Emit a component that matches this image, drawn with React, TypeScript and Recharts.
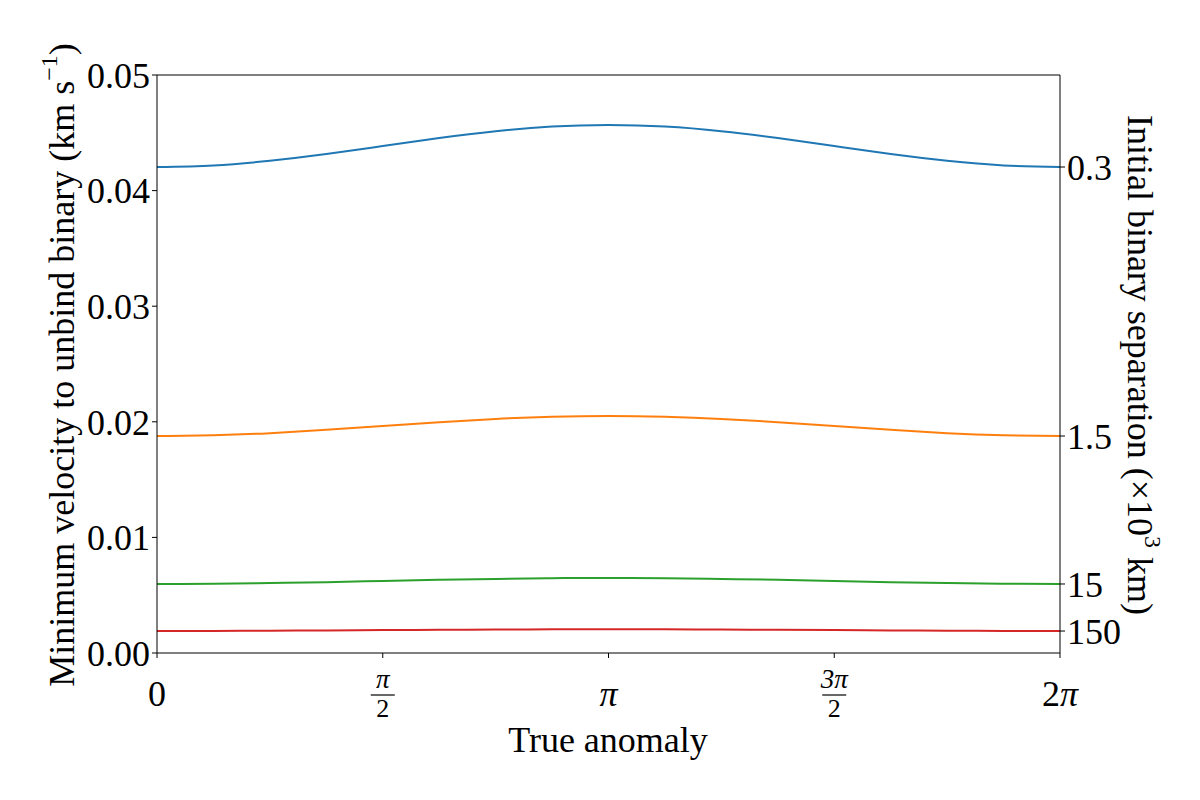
import React from "react";
import { LineChart, Line, XAxis, YAxis, Label, ReferenceLine } from "recharts";

// true anomaly, in units of pi
const anomaly = [0, 0.125, 0.25, 0.375, 0.5, 0.625, 0.75, 0.875, 1, 1.125, 1.25, 1.375, 1.5, 1.625, 1.75, 1.875, 2];

// minimum velocity to unbind (km/s)
const sep03 = [0.04204, 0.04218, 0.04258, 0.04316, 0.04386, 0.04455, 0.04514, 0.04554, 0.04567, 0.04554, 0.04514, 0.04455, 0.04386, 0.04316, 0.04258, 0.04218, 0.04204];
const sep15 = [0.01877, 0.01884, 0.01902, 0.01931, 0.01964, 0.01997, 0.02025, 0.02043, 0.0205, 0.02043, 0.02025, 0.01997, 0.01964, 0.01931, 0.01902, 0.01884, 0.01877];
const sep150 = [0.00597, 0.00599, 0.00605, 0.00613, 0.00623, 0.00633, 0.00641, 0.00647, 0.00649, 0.00647, 0.00641, 0.00633, 0.00623, 0.00613, 0.00605, 0.00599, 0.00597];
const sep1500 = [0.0019, 0.00191, 0.00193, 0.00195, 0.00198, 0.00201, 0.00203, 0.00205, 0.00205, 0.00205, 0.00203, 0.00201, 0.00198, 0.00195, 0.00193, 0.00191, 0.0019];

const leftTicks = [0, 0.01, 0.02, 0.03, 0.04, 0.05];
const xTicks = [0, 0.5, 1, 1.5, 2];

// right axis: labelled at the starting value of each curve
const rightTicks = [0.04204, 0.01877, 0.00597, 0.0019];
const rightLabels = ["0.3", "1.5", "15", "150"];

const series = [
  { key: "s03", values: sep03, color: "#1f77b4" },
  { key: "s15", values: sep15, color: "#ff7f0e" },
  { key: "s150", values: sep150, color: "#2ca02c" },
  { key: "s1500", values: sep1500, color: "#d62728" },
];

const data = anomaly.map((t, i) => {
  const row: any = { t };
  series.forEach((s) => (row[s.key] = s.values[i]));
  return row;
});

const FONT = "'Liberation Serif', 'DejaVu Serif', serif";
const FS = 36;
const black = { stroke: "#000", strokeWidth: 1 };

const XTick = (props: any) => {
  const { x, y, payload } = props;
  const v = payload.value;
  const frac = (num: string) => (
    <g>
      <text x={x} y={y + 28} textAnchor="middle" fontFamily={FONT} fontSize={27} fontStyle="italic" fill="#000">
        {num}
      </text>
      <line x1={x - 12} x2={x + 12} y1={y + 35} y2={y + 35} stroke="#000" strokeWidth={1.2} />
      <text x={x} y={y + 57} textAnchor="middle" fontFamily={FONT} fontSize={26} fill="#000">
        2
      </text>
    </g>
  );
  if (v === 0.5) return frac("π");
  if (v === 1.5) return frac("3π");
  return (
    <text x={x} y={y + 46} textAnchor="middle" fontFamily={FONT} fontSize={FS} fill="#000">
      {v === 0 ? "0" : v === 1 ? <tspan fontStyle="italic">π</tspan> : <tspan>2<tspan fontStyle="italic">π</tspan></tspan>}
    </text>
  );
};

export default function App() {
  return (
    <div style={{ position: "absolute", left: 0, top: 0, width: 1200, height: 800, background: "#fff" }}>
      <LineChart width={1200} height={800} data={data} margin={{ top: 75, right: 0, bottom: 47, left: 0 }}>
        <XAxis
          dataKey="t"
          type="number"
          domain={[0, 2]}
          ticks={xTicks}
          tick={<XTick />}
          height={100}
          axisLine={black}
          tickLine={black}
          tickSize={5}
          interval={0}
        >
          <Label
            content={() => (
              <text x={608} y={752} textAnchor="middle" fontFamily={FONT} fontSize={FS} fill="#000">
                True anomaly
              </text>
            )}
          />
        </XAxis>
        <YAxis
          yAxisId="left"
          type="number"
          domain={[0, 0.05]}
          ticks={leftTicks}
          tickFormatter={(v: number) => v.toFixed(2)}
          width={157}
          axisLine={black}
          tickLine={black}
          tickSize={5}
          tick={{ fontFamily: FONT, fontSize: FS, fill: "#000" }}
          interval={0}
        >
          <Label
            content={() => (
              <text
                x={62}
                y={365}
                transform="rotate(-90 62 365)"
                textAnchor="middle"
                dominantBaseline="central"
                fontFamily={FONT}
                fontSize={FS}
                fill="#000"
              >
                Minimum velocity to unbind binary (km s
                <tspan dy={-13} fontSize={24}>−1</tspan>
                <tspan dy={13}>)</tspan>
              </text>
            )}
          />
        </YAxis>
        <YAxis
          yAxisId="right"
          orientation="right"
          type="number"
          domain={[0, 0.05]}
          ticks={rightTicks}
          tickFormatter={(v: number) => rightLabels[rightTicks.indexOf(v)]}
          width={140}
          axisLine={black}
          tickLine={black}
          tickSize={5}
          tick={{ fontFamily: FONT, fontSize: FS, fill: "#000" }}
          interval={0}
        >
          <Label
            content={() => (
              <text
                x={1140}
                y={365}
                transform="rotate(90 1140 365)"
                textAnchor="middle"
                dominantBaseline="central"
                fontFamily={FONT}
                fontSize={FS}
                fill="#000"
              >
                Initial binary separation (×10
                <tspan dy={-13} fontSize={24}>3</tspan>
                <tspan dy={13}> km)</tspan>
              </text>
            )}
          />
        </YAxis>
        <ReferenceLine yAxisId="left" y={0.05} stroke="#000" strokeWidth={1} />
        {series.map((s, i) => (
          <Line
            key={s.key}
            yAxisId={i === series.length - 1 ? "right" : "left"}
            type="natural"
            dataKey={s.key}
            stroke={s.color}
            strokeWidth={2}
            dot={false}
            isAnimationActive={false}
          />
        ))}
      </LineChart>
    </div>
  );
}
